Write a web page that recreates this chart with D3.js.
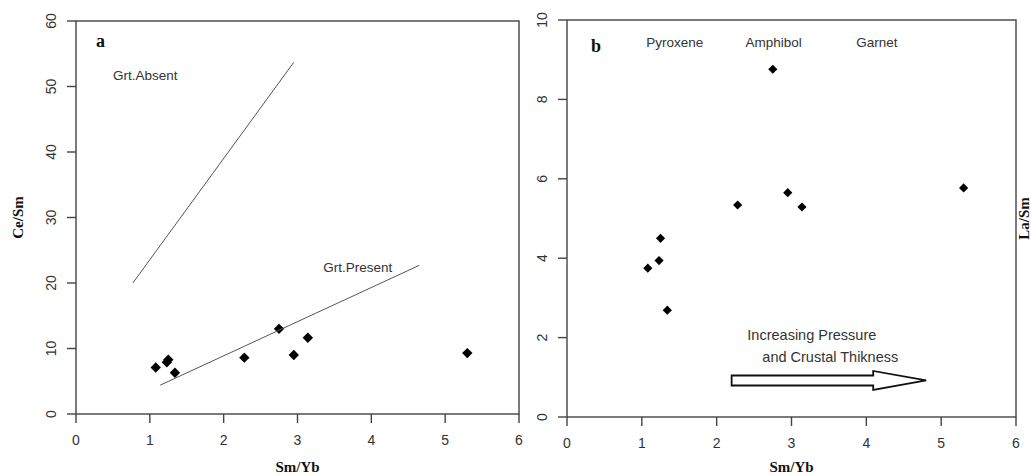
<!DOCTYPE html>
<html>
<head>
<meta charset="utf-8">
<script src="https://cdnjs.cloudflare.com/ajax/libs/d3/7.8.5/d3.min.js"></script>
<style>
  body { margin: 0; background: #fff; }
  svg { display: block; }
  .tick-label { font-family: "Liberation Sans", Arial, sans-serif; font-size: 14px; fill: #333; }
  .note { font-family: "Liberation Sans", Arial, sans-serif; font-size: 13.5px; fill: #333; }
  .note.big { font-size: 14.5px; }
  .axis-title { font-family: "Liberation Serif", "Times New Roman", serif; font-size: 15px; font-weight: bold; fill: #111; }
  .panel-label { font-family: "Liberation Serif", "Times New Roman", serif; font-size: 18px; font-weight: bold; fill: #111; }
</style>
</head>
<body>
<svg id="chart" width="1031" height="475"></svg>
<script>
// Sm/Yb shared by both panels
var smYb = [1.08, 1.23, 1.25, 1.34, 2.28, 2.75, 2.95, 3.14, 5.30];
var ceSm = [7.1, 7.9, 8.3, 6.3, 8.6, 13.0, 9.0, 11.65, 9.3];
var laSm = [3.75, 3.94, 4.50, 2.69, 5.34, 8.76, 5.65, 5.29, 5.77];

var xTicks = [0, 1, 2, 3, 4, 5, 6];
var yTicksA = [0, 10, 20, 30, 40, 50, 60];
var yTicksB = [0, 2, 4, 6, 8, 10];

// reference lines in panel a (data coords)
var grtAbsentLine = [[0.77, 20.0], [2.95, 53.7]];
var grtPresentLine = [[1.14, 4.4], [4.65, 22.7]];

var notesA = [
  { text: "Grt.Absent", x: 0.5, y: 51.0, anchor: "start" },
  { text: "Grt.Present", x: 3.35, y: 21.7, anchor: "start" }
];
var notesB = [
  { text: "Pyroxene", x: 1.44, y: 9.32, anchor: "middle" },
  { text: "Amphibol", x: 2.76, y: 9.32, anchor: "middle" },
  { text: "Garnet", x: 4.14, y: 9.32, anchor: "middle" },
  { text: "Increasing Pressure", x: 2.41, y: 1.93, anchor: "start", big: true },
  { text: "and Crustal Thikness", x: 2.61, y: 1.38, anchor: "start", big: true }
];
// arrow in panel b: from, to, at height
var arrowB = { x0: 2.2, x1: 4.8, y: 0.92 };

var svg = d3.select("#chart");

function drawPanel(opt) {
  var x = d3.scaleLinear().domain([0, 6]).range([opt.left, opt.right]);
  var y = d3.scaleLinear().domain(opt.yDomain).range([opt.bottom, opt.top]);
  var g = svg.append("g");

  // box
  g.append("rect")
    .attr("x", opt.left).attr("y", opt.top)
    .attr("width", opt.right - opt.left).attr("height", opt.bottom - opt.top)
    .attr("fill", "none").attr("stroke", "#444").attr("stroke-width", 1.4);

  // x ticks
  g.selectAll(".xt").data(xTicks).enter().append("line")
    .attr("x1", function(d) { return x(d); }).attr("x2", function(d) { return x(d); })
    .attr("y1", opt.bottom).attr("y2", opt.bottom + 9)
    .attr("stroke", "#444").attr("stroke-width", 1.4);
  g.selectAll(".xl").data(xTicks).enter().append("text")
    .attr("class", "tick-label")
    .attr("x", function(d) { return x(d); }).attr("y", opt.bottom + 31)
    .attr("text-anchor", "middle")
    .text(function(d) { return d; });

  // y ticks
  g.selectAll(".yt").data(opt.yTicks).enter().append("line")
    .attr("x1", opt.left - 9).attr("x2", opt.left)
    .attr("y1", function(d) { return y(d); }).attr("y2", function(d) { return y(d); })
    .attr("stroke", "#444").attr("stroke-width", 1.4);
  g.selectAll(".yl").data(opt.yTicks).enter().append("text")
    .attr("class", "tick-label")
    .attr("text-anchor", "middle")
    .attr("transform", function(d) { return "translate(" + (opt.left - 20) + "," + y(d) + ") rotate(-90)"; })
    .text(function(d) { return d; });

  // titles
  g.append("text").attr("class", "axis-title")
    .attr("x", (opt.left + opt.right) / 2).attr("y", 472)
    .attr("text-anchor", "middle").text("Sm/Yb");
  g.append("text").attr("class", "axis-title")
    .attr("text-anchor", "middle")
    .attr("transform", "translate(" + opt.yTitleX + "," + (opt.top + opt.bottom) / 2 + ") rotate(-90)")
    .text(opt.yTitle);
  g.append("text").attr("class", "panel-label")
    .attr("x", opt.left + opt.labelDx).attr("y", opt.top + opt.labelDy)
    .text(opt.label);

  // notes
  g.selectAll(".note").data(opt.notes).enter().append("text")
    .attr("class", function(d) { return d.big ? "note big" : "note"; })
    .attr("x", function(d) { return x(d.x); }).attr("y", function(d) { return y(d.y); })
    .attr("text-anchor", function(d) { return d.anchor; })
    .text(function(d) { return d.text; });

  // points
  var sym = d3.symbol().type(d3.symbolSquare).size(opt.symSize);
  g.selectAll(".pt").data(opt.values).enter().append("path")
    .attr("d", sym)
    .attr("fill", "#000")
    .attr("transform", function(d, i) { return "translate(" + x(smYb[i]) + "," + y(d) + ") rotate(45)"; });

  return { g: g, x: x, y: y };
}

var a = drawPanel({
  left: 76, right: 519, top: 21, bottom: 414,
  yDomain: [0, 60], yTicks: yTicksA, values: ceSm, notes: notesA,
  yTitle: "Ce/Sm", yTitleX: 23, label: "a", labelDx: 20, labelDy: 26, symSize: 54
});

var line = d3.line().x(function(d) { return a.x(d[0]); }).y(function(d) { return a.y(d[1]); });
[grtAbsentLine, grtPresentLine].forEach(function(l) {
  a.g.append("path").attr("d", line(l))
    .attr("fill", "none").attr("stroke", "#555").attr("stroke-width", 1);
});

var b = drawPanel({
  left: 567, right: 1016, top: 20, bottom: 417,
  yDomain: [0, 10], yTicks: yTicksB, values: laSm, notes: notesB,
  yTitle: "La/Sm", yTitleX: 1029, label: "b", labelDx: 24, labelDy: 32, symSize: 42
});

// open block arrow
var ax0 = b.x(arrowB.x0), ax1 = b.x(arrowB.x1), ay = b.y(arrowB.y);
var headStart = ax1 - 53;
var arrowPts = [
  [ax0, ay - 5], [headStart, ay - 5], [headStart, ay - 9.5], [ax1, ay],
  [headStart, ay + 9.5], [headStart, ay + 5], [ax0, ay + 5]
];
b.g.append("path")
  .attr("d", "M" + arrowPts.map(function(p) { return p.join(","); }).join("L") + "Z")
  .attr("fill", "#fff").attr("stroke", "#111").attr("stroke-width", 1.8)
  .attr("stroke-linejoin", "miter");
</script>
</body>
</html>
